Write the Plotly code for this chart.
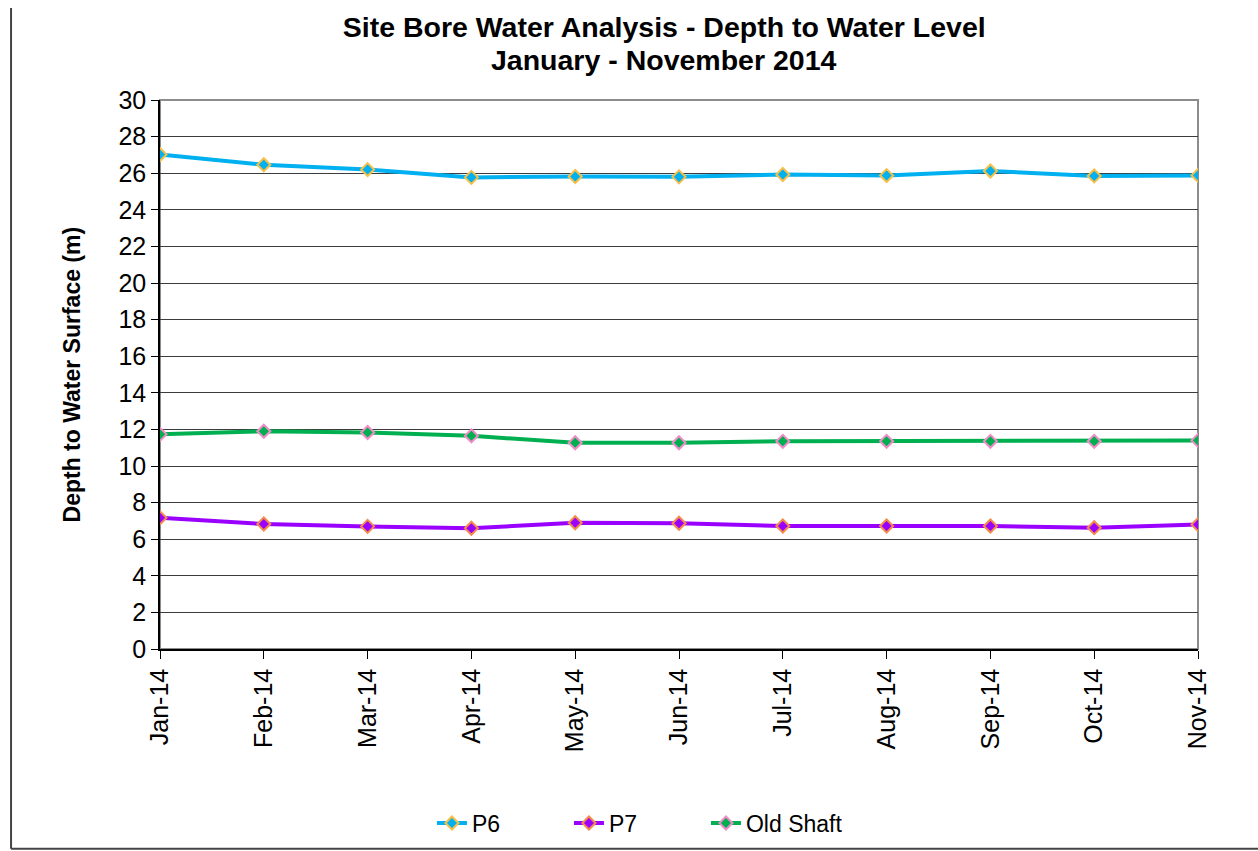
import plotly.graph_objects as go

# ─── Data ────────────────────────────────────────────────────
months = ["Jan-14", "Feb-14", "Mar-14", "Apr-14", "May-14", "Jun-14",
          "Jul-14", "Aug-14", "Sep-14", "Oct-14", "Nov-14"]
p6 = [27.02, 26.46, 26.2, 25.77, 25.82, 25.8, 25.93, 25.87, 26.12, 25.85, 25.88]
p7 = [7.17, 6.83, 6.7, 6.6, 6.9, 6.87, 6.72, 6.72, 6.72, 6.63, 6.8]
old_shaft = [11.73, 11.9, 11.83, 11.65, 11.27, 11.27, 11.35, 11.35, 11.35, 11.35, 11.4]
y_ticks = list(range(0, 31, 2))

FONT = "Liberation Sans, Arial, sans-serif"

# name, values, line colour, marker fill, marker edge
series = [
    ("P6", p6, "#00B0F0", "#00B0F0", "#F5C04A"),
    ("P7", p7, "#9900FF", "#9900FF", "#F58A4A"),
    ("Old Shaft", old_shaft, "#00B050", "#00B050", "#F08CC8"),
]

fig = go.Figure()
for name, vals, lc, mc, me in series:
    fig.add_trace(go.Scatter(
        x=months, y=vals, name=name, mode="lines+markers",
        line=dict(color=lc, width=4),
        marker=dict(symbol="diamond", size=10, color=mc,
                    line=dict(color=me, width=2)),
    ))

# plot-area border (grey top/right), outer chart frame (left/bottom)
fig.add_shape(type="rect", xref="paper", yref="paper", x0=0, x1=1, y0=0, y1=1,
              line=dict(color="#8C8C8C", width=2), layer="below")
fig.add_shape(type="line", xref="paper", yref="paper", x0=-0.1435, x1=-0.1435,
              y0=1.1676, y1=-0.364, line=dict(color="#444444", width=2))
fig.add_shape(type="line", xref="paper", yref="paper", x0=-0.1435, x1=1.2,
              y0=-0.364, y1=-0.364, line=dict(color="#444444", width=2))

# second title line (Excel-style tight line spacing)
fig.add_annotation(
    text="<b>January - November 2014</b>",
    xref="paper", yref="paper", x=0.485, y=1.0729, xanchor="center",
    yanchor="middle", showarrow=False,
    font=dict(family=FONT, size=28.5, color="black"),
)
fig.add_annotation(
    text="<b>Depth to Water Surface (m)</b>", textangle=-90,
    xref="paper", yref="paper", x=-0.0848, y=0.5, xanchor="center",
    yanchor="middle", showarrow=False,
    font=dict(family=FONT, size=23, color="black"),
)

fig.update_xaxes(
    type="category", range=[0, 10], showgrid=False, zeroline=False,
    showline=True, linecolor="black", linewidth=1.5, automargin=False,
    ticks="outside", ticklen=8, tickcolor="black",
    tickangle=-90, tickfont=dict(family=FONT, size=25, color="black"),
)
fig.update_yaxes(
    range=[0, 30], tickvals=y_ticks, showgrid=True, gridcolor="#3C3C3C",
    gridwidth=1, zeroline=False, showline=True, linecolor="black",
    linewidth=1.5, automargin=False, ticks="outside", ticklen=7,
    tickcolor="black", tickfont=dict(family=FONT, size=25, color="black"),
)

fig.update_layout(
    width=1258, height=851,
    title=dict(
        text="<b>Site Bore Water Analysis - Depth to Water Level</b>",
        x=0.528, xanchor="center", y=0.968, yanchor="middle",
        font=dict(family=FONT, size=28.5, color="black"),
    ),
    font=dict(family=FONT, color="black"),
    plot_bgcolor="white", paper_bgcolor="white",
    margin=dict(l=160, r=60, t=100, b=202, autoexpand=False),
    legend=dict(
        orientation="h", x=0.262, xanchor="left", y=-0.317, yanchor="middle",
        font=dict(family=FONT, size=23, color="black"),
        bgcolor="rgba(0,0,0,0)",
        entrywidth=92, tracegroupgap=0,
    ),
    showlegend=True,
)

fig.write_html("out.html", config={"displayModeBar": False},
               post_script="document.body.style.margin='0';")
